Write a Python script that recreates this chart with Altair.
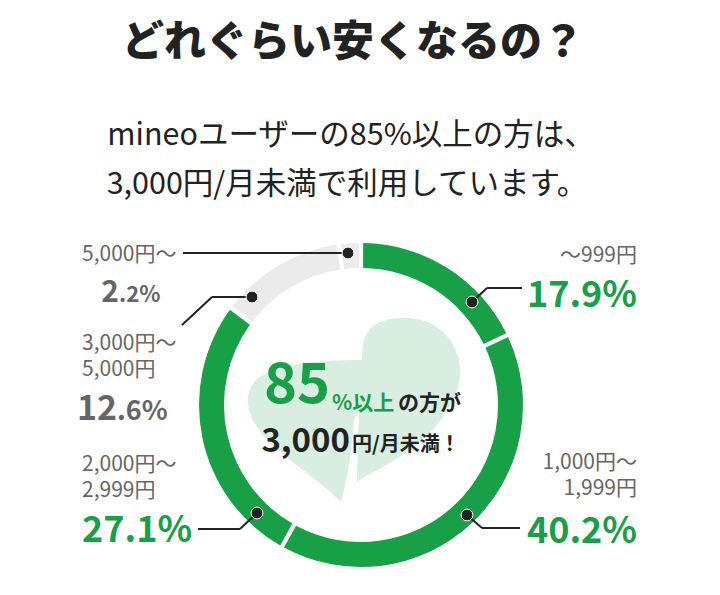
import pandas as pd
import altair as alt

# 料金帯ごとの利用者割合
ranges = ["～999円", "1,000円～\n1,999円", "2,000円～\n2,999円",
          "3,000円～\n5,000円", "5,000円～"]
shares = [17.9, 40.2, 27.1, 12.6, 2.2]
under_3000 = [True, True, True, False, False]

title = "どれぐらい安くなるの？"
subtitle = ["mineoユーザーの85%以上の方は、", "3,000円/月未満で利用しています。"]
headline = ["85", "%以上", "の方が", "3,000", "円/月未満！"]

FONT = "Noto Sans CJK JP"
GREEN = "#17a046"
GRAY = "#ebebeb"
PALE = "#d8eee0"
INK = "#222222"
SUB = "#666666"

W, H = 704, 579
CX, CY = 353, 397

df = pd.DataFrame({
    "range": ranges,
    "share": shares,
    "order": list(range(len(shares))),
    "group": ["under" if u else "over" for u in under_3000],
})


def text_layer(value, x, y, size, color=INK, weight="normal", align="left"):
    return alt.Chart(pd.DataFrame({"t": [value]})).mark_text(
        font=FONT, fontSize=size, color=color, fontWeight=weight,
        align=align, baseline="alphabetic"
    ).encode(text="t:N", x=alt.value(x), y=alt.value(y))


def range_layers(label, x, y, align="left", gap=26):
    # 2行のラベルは1行ずつ置く
    return [text_layer(line, x, y + i * gap, 21, color=SUB, align=align)
            for i, line in enumerate(label.split("\n"))]


# 背景のしずく形（mineoロゴ風）
blob_right = ("M0.02,0.72 C0.03,0.30 0.05,-0.30 0.08,-0.65 "
              "C0.10,-0.85 0.30,-0.94 0.55,-0.92 C0.85,-0.90 1.07,-0.65 1.05,-0.35 "
              "C1.03,-0.10 0.85,0.18 0.55,0.40 C0.30,0.57 0.10,0.66 0.02,0.72 Z")
blob_left = ("M0.11,-0.50 C-0.25,-0.50 -0.80,-0.48 -0.99,-0.30 "
             "C-1.12,-0.16 -1.09,0.04 -0.93,0.24 C-0.70,0.50 -0.35,0.70 -0.14,0.92 "
             "C-0.08,0.70 -0.03,0.40 -0.01,0.10 L0.11,-0.10 Z")


def blob(path):
    return alt.Chart(pd.DataFrame({"t": [0]})).mark_point(
        shape=path, size=40000, filled=True, color=PALE, opacity=1, strokeWidth=0
    ).encode(x=alt.value(347), y=alt.value(402))


ring = alt.Chart(df).mark_arc(innerRadius=137, outerRadius=162, padAngle=0.02).encode(
    theta=alt.Theta("share:Q"),
    order=alt.Order("order:Q"),
    color=alt.Color("group:N", scale=alt.Scale(domain=["under", "over"], range=[GREEN, GRAY]),
                    legend=None),
    x=alt.value(CX),
    y=alt.value(CY),
)

# 引き出し線
segs = pd.DataFrame([
    (175, 245, 340, 245),
    (174, 317, 204, 289), (204, 289, 244, 289),
    (190, 521, 232, 521), (232, 521, 249, 505),
    (464, 294, 479, 280), (479, 280, 514, 280),
    (459, 507, 474, 520), (474, 520, 512, 520),
], columns=["x", "y", "x2", "y2"])
lines = alt.Chart(segs).mark_rule(color=INK, strokeWidth=2).encode(
    x=alt.X("x:Q", scale=None), y=alt.Y("y:Q", scale=None),
    x2="x2:Q", y2="y2:Q")

pts = pd.DataFrame([(340, 245), (244, 289), (249, 505), (464, 294), (459, 507)],
                   columns=["x", "y"])
dots = alt.Chart(pts).mark_circle(size=140, color=INK, opacity=1, stroke="white",
                                  strokeWidth=1).encode(
    x=alt.X("x:Q", scale=None), y=alt.Y("y:Q", scale=None))


def pct(v):
    return f"{v:.1f}%"


def split_pct(v):
    a, b = f"{v:.1f}".split(".")
    return a, "." + b + "%"


texts = [
    text_layer(title, 345, 48, 42, weight=900, align="center"),
    text_layer(subtitle[0], 343, 137, 30.5, align="center"),
    text_layer(subtitle[1], 339, 186, 30.5, align="center"),
    # 中央の見出し
    text_layer(headline[0], 322, 395, 56, color=GREEN, weight="bold", align="right"),
    text_layer(headline[1], 324, 402, 21, color=GREEN, weight="bold"),
    text_layer(headline[2], 390, 402, 21, weight="bold"),
    text_layer(headline[3], 342, 444, 33, weight="bold", align="right"),
    text_layer(headline[4], 344, 443, 20, weight="bold"),
    # 右側ラベル
    text_layer(pct(shares[0]), 629, 299, 36, color=GREEN, weight="bold", align="right"),
    text_layer(pct(shares[1]), 629, 535, 36, color=GREEN, weight="bold", align="right"),
    # 左側ラベル
    text_layer(split_pct(shares[4])[0], 111, 294, 30, color=SUB, weight="bold", align="right"),
    text_layer(split_pct(shares[4])[1], 111, 294, 22, color=SUB, weight="bold"),
    text_layer(split_pct(shares[3])[0], 109, 412, 34, color=SUB, weight="bold", align="right"),
    text_layer(split_pct(shares[3])[1], 109, 412, 27, color=SUB, weight="bold"),
    text_layer(pct(shares[2]), 74, 534, 36, color=GREEN, weight="bold"),
]
texts += range_layers(ranges[0], 629, 254, align="right")
texts += range_layers(ranges[1], 629, 461, align="right")
texts += range_layers(ranges[4], 74, 253)
texts += range_layers(ranges[3], 74, 342)
texts += range_layers(ranges[2], 74, 463)

chart = alt.layer(blob(blob_left), blob(blob_right), ring, lines, dots, *texts).properties(
    width=W, height=H, padding=0, background="white",
    autosize=alt.AutoSizeParams(type="none"),
).configure_view(strokeWidth=0)

chart.save("out.html", embed_options={"renderer": "svg", "actions": False})
